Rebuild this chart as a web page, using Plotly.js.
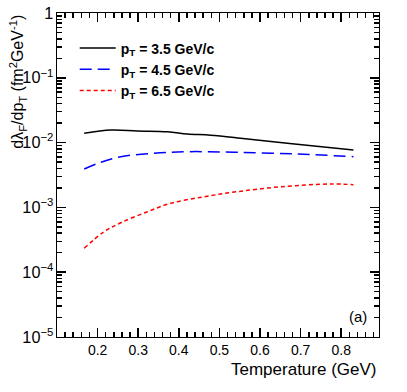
<!DOCTYPE html>
<html>
<head>
<meta charset="utf-8">
<script src="https://cdn.plot.ly/plotly-3.0.1.min.js"></script>
<style>
  body { margin: 0; background: #fff; }
  #chart { width: 407px; height: 392px; }
</style>
</head>
<body>
<div id="chart"></div>
<script>
// Temperature (GeV) and dlambda_F/dpT values
const tempPt35 = [0.167, 0.233, 0.298, 0.372, 0.421, 0.478, 0.552, 0.667, 0.83];
const valPt35 = [0.0139, 0.0156, 0.0151, 0.0147, 0.0136, 0.0130, 0.0117, 0.00975, 0.00769];

const tempPt45 = [0.167, 0.208, 0.257, 0.338, 0.421, 0.544, 0.691, 0.83];
const valPt45 = [0.00391, 0.00497, 0.00606, 0.00684, 0.00724, 0.00708, 0.00667, 0.00606];

const tempPt65 = [0.167, 0.216, 0.257, 0.323, 0.380, 0.462, 0.544, 0.650, 0.773, 0.83];
const valPt65 = [0.000234, 0.000422, 0.000580, 0.000859, 0.001156, 0.00146, 0.00175, 0.00208, 0.00230, 0.00224];

const seriesNames = [
    '<b>p<sub>T</sub> = 3.5 GeV/c</b>',
    '<b>p<sub>T</sub> = 4.5 GeV/c</b>',
    '<b>p<sub>T</sub> = 6.5 GeV/c</b>'
];

// tick labels on the x axis
const xTickVals = [0.2, 0.3, 0.4, 0.5, 0.6, 0.7, 0.8];
const xTickText = ['0.2', '0.3', '0.4', '0.5', '0.6', '0.7', '0.8'];

const FontFamily = 'Liberation Sans, Arial, sans-serif';
const xRange = [0.1, 0.893];

// minor tick positions on x (every 0.02)
var xMinor = [];
for (let i = 6; i <= 44; i++) {
    xMinor.push(i * 0.02);
}

var traces = [
    { x: tempPt35, y: valPt35, name: seriesNames[0], type: 'scatter', mode: 'lines',
      line: { color: 'black', width: 1.5, shape: 'spline' } },
    { x: tempPt45, y: valPt45, name: seriesNames[1], type: 'scatter', mode: 'lines',
      line: { color: 'blue', width: 1.5, dash: '12px,6px', shape: 'spline' } },
    { x: tempPt65, y: valPt65, name: seriesNames[2], type: 'scatter', mode: 'lines',
      line: { color: 'red', width: 1.5, dash: '4px,3px', shape: 'spline' } },
    // empty trace so the minor tick axis gets drawn
    { x: [], y: [], xaxis: 'x2', yaxis: 'y2', type: 'scatter', mode: 'lines', showlegend: false }
];

var layout = {
    width: 407,
    height: 392,
    margin: { l: 57, r: 28, t: 13, b: 55 },
    showlegend: true,
    legend: {
        x: 0.055, y: 0.94, xanchor: 'left', yanchor: 'top',
        bgcolor: 'rgba(0,0,0,0)',
        font: { family: FontFamily, size: 14, color: 'black' },
        itemwidth: 36,
        tracegroupgap: 9
    },
    xaxis: {
        range: xRange,
        tickmode: 'array',
        tickvals: xTickVals,
        ticktext: xTickText,
        ticks: 'inside', ticklen: 9, tickwidth: 1.5, tickcolor: 'black',
        showline: true, linecolor: 'black', mirror: 'ticks', showgrid: false,
        tickfont: { family: FontFamily, size: 14, color: 'black' }
    },
    yaxis: {
        type: 'log',
        range: [-5, 0],
        dtick: 1,
        exponentformat: 'power',
        ticks: 'inside', ticklen: 9, tickwidth: 1.5, tickcolor: 'black',
        showline: true, linecolor: 'black', mirror: 'ticks', showgrid: false,
        tickfont: { family: FontFamily, size: 13, color: 'black' },
        minor: { ticks: 'inside', ticklen: 5, tickcolor: 'black', tickwidth: 1.5 }
    },
    xaxis2: {
        overlaying: 'x', anchor: 'y2', range: xRange,
        tickmode: 'array', tickvals: xMinor,
        ticks: 'inside', ticklen: 5, tickcolor: 'black', tickwidth: 1.5,
        mirror: 'ticks', showticklabels: false, showgrid: false
    },
    yaxis2: {
        overlaying: 'y', anchor: 'x2', type: 'log', range: [-5, 0],
        showticklabels: false, showgrid: false
    },
    annotations: [
        {
            text: 'dλ<sub>F</sub>/dp<sub>T</sub> (fm<sup>2</sup>GeV<sup>-1</sup>)',
            xref: 'paper', yref: 'paper', x: -0.122, y: 1.0,
            xanchor: 'center', yanchor: 'top', textangle: -90, showarrow: false,
            font: { family: FontFamily, size: 16, color: 'black' }
        },
        {
            text: 'Temperature (GeV)',
            xref: 'paper', yref: 'paper', x: 1.0, y: -0.065,
            xanchor: 'right', yanchor: 'top', showarrow: false,
            font: { family: FontFamily, size: 17, color: 'black' }
        },
        {
            text: '(a)',
            xref: 'paper', yref: 'paper', x: 0.935, y: 0.062,
            xanchor: 'center', yanchor: 'middle', showarrow: false,
            font: { family: FontFamily, size: 15, color: 'black' }
        }
    ]
};

// draw, then re-apply the tick settings once the plot exists
Plotly.newPlot('chart', traces, layout, { displayModeBar: false, staticPlot: true }).then(function (gd) {
    return Plotly.relayout(gd, {
        'xaxis.ticks': 'inside',
        'yaxis.ticks': 'inside',
        'xaxis2.ticks': 'inside',
        'yaxis.minor.ticks': 'inside'
    });
});
</script>
</body>
</html>
